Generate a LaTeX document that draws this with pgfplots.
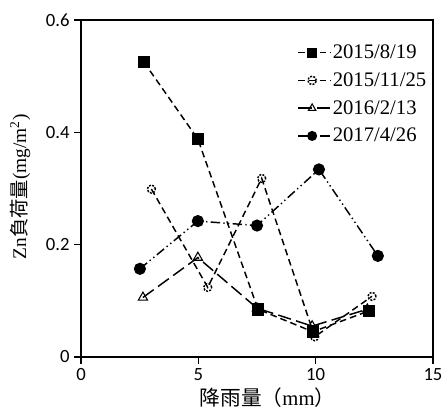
\documentclass[border=0pt]{standalone}
\usepackage{fontspec}
\usepackage{pgfplots}
\pgfplotsset{compat=1.18}
\setmainfont{Liberation Serif}
\newfontfamily\cjk{Noto Sans CJK JP}
\newfontfamily\tickfont{Carlito}
\begin{document}
\begin{tikzpicture}
\begin{axis}[
  scale only axis, width=264pt, height=252.75pt,
  xmin=0, xmax=15, ymin=0, ymax=0.6,
  xtick={0,5,10,15}, ytick={0,0.2,0.4,0.6},
  xtick pos=lower, ytick pos=left,
  tick align=outside, major tick length=5pt,
  tick style={black, line width=0.8pt},
  axis line style={black, line width=0.9pt},
  /pgf/number format/assume math mode=true,
  yticklabel style={/pgf/number format/fixed, /pgf/number format/precision=1},
  tick label style={font=\tickfont\fontsize{14}{16}\selectfont},
  xlabel={{\cjk 降雨量（}mm{\cjk ）}},
  ylabel={Zn{\cjk 負荷量}(mg/m\textsuperscript{2})},
  xlabel style={font=\fontsize{15.5}{17}\selectfont, at={(axis description cs:0.53,-0.122)}, anchor=center},
  ylabel style={font=\fontsize{14.5}{17}\selectfont, at={(axis description cs:-0.173,0.505)}, anchor=center},
  legend style={draw=none, fill=none, at={(0.615,0.935)}, anchor=north west,
    font=\fontsize{15.5}{18}\selectfont, row sep=5pt, inner sep=0pt,
    nodes={inner xsep=1pt}},
  legend cell align=left,
  legend image code/.code={\draw[#1] (0cm,0cm) -- (0.85cm,0cm); \draw[#1, mark repeat=2, mark phase=2, mark size=3.2pt] plot coordinates {(0cm,0cm) (0.36cm,0cm) (0.85cm,0cm)};},
]
\addplot[black, line width=1.1pt, dash pattern=on 5pt off 3pt, mark=square*, mark size=4.2pt, mark options={solid}]
  coordinates {(2.68,0.525) (4.98,0.388) (7.54,0.085) (9.88,0.045) (12.27,0.082)};
\addlegendentry{2015/8/19}
\addplot[black, line width=1.1pt, dash pattern=on 5pt off 3pt, mark=o, mark size=3pt, mark options={dash pattern=on 1.5pt off 1pt}]
  coordinates {(3.0,0.299) (5.4,0.124) (7.7,0.318) (9.96,0.036) (12.4,0.108)};
\addlegendentry{2015/11/25}
\addplot[black, line width=1.1pt, dash pattern=on 10pt off 4pt, mark=triangle, mark size=4pt, mark options={solid, line width=0.8pt}]
  coordinates {(2.64,0.106) (4.98,0.177) (7.5,0.087) (9.85,0.055) (12.2,0.085)};
\addlegendentry{2016/2/13}
\addplot[black, line width=1.1pt, dash pattern=on 7pt off 2.5pt on 1pt off 2.5pt on 1pt off 2.5pt, mark=*, mark size=4pt, mark options={solid}]
  coordinates {(2.51,0.157) (4.98,0.242) (7.5,0.234) (10.14,0.334) (12.65,0.18)};
\addlegendentry{2017/4/26}
\end{axis}
\pgfresetboundingbox
\path ([shift={(-60.75pt,-42pt)}]current axis.south west) rectangle ([shift={(8.25pt,15pt)}]current axis.north east);
\end{tikzpicture}
\end{document}
